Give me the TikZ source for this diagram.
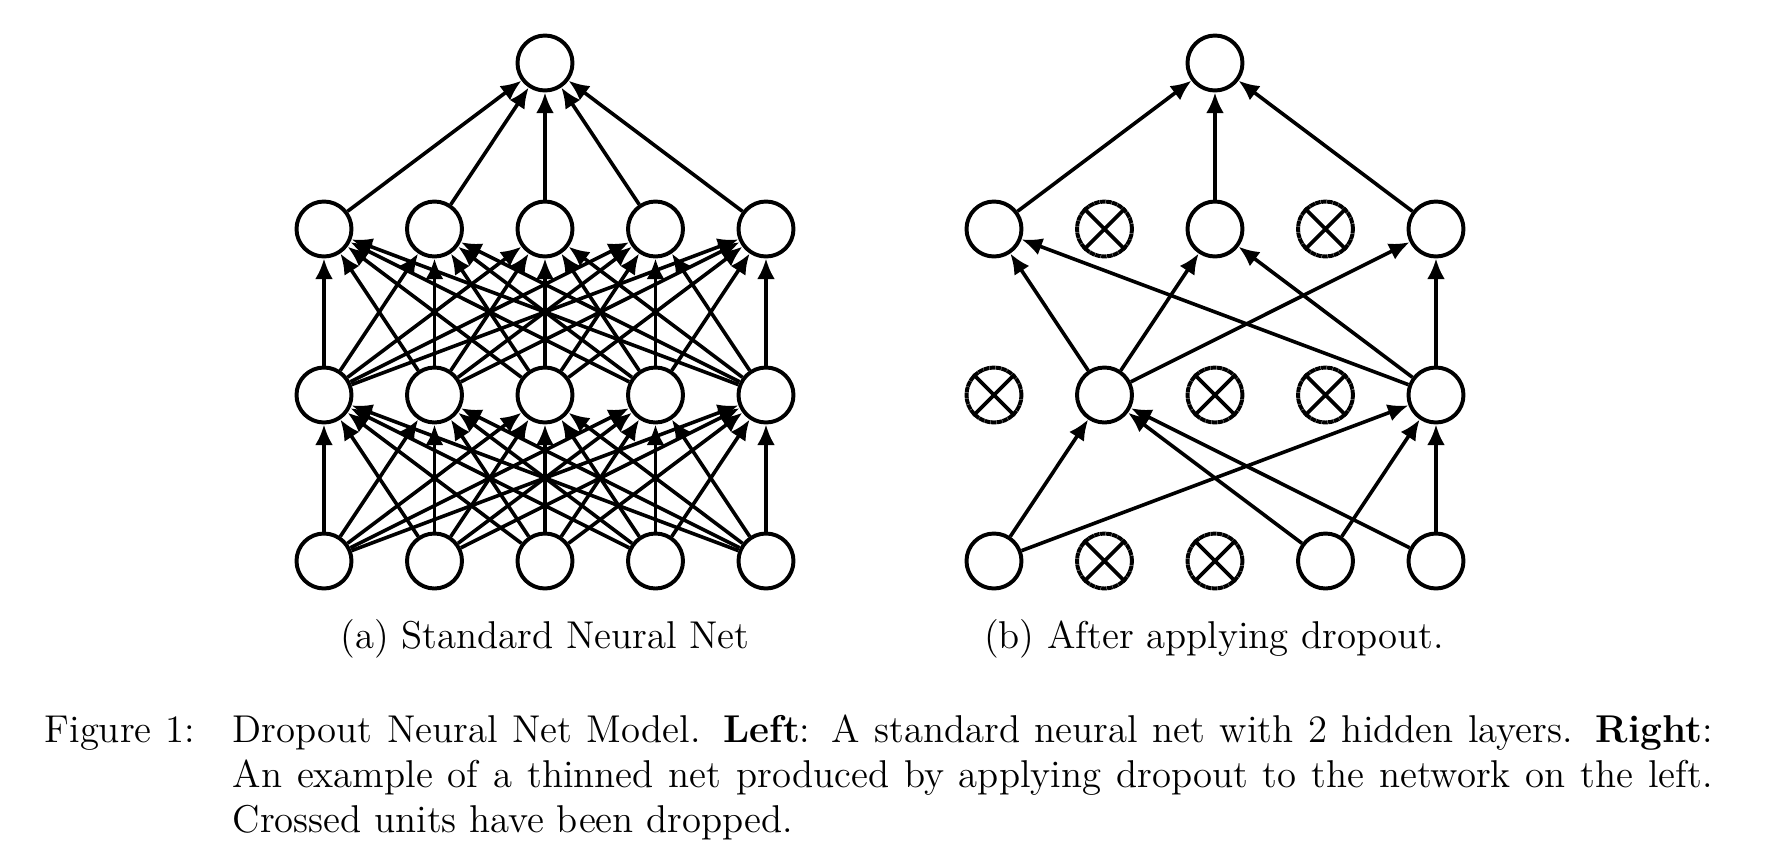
\documentclass[tikz,border=0pt]{standalone}
\usetikzlibrary{arrows.meta}
\newdimen\px \px=0.2915pt
\begin{document}
\begin{tikzpicture}[x=0.2915pt,y=-0.2915pt,
  unit/.style={circle,draw,line width=1.15pt,minimum size=55\px,inner sep=0pt},
  dropped/.style={unit,dash pattern=on 1.6pt off 0.15pt},
  xline/.style={line width=1.1pt},
  conn/.style={line width=1.05pt,-{Latex[length=6pt,width=5.2pt]}},
  lab/.style={inner sep=0pt,font=\fontsize{11.3}{13.9}\selectfont}]
\useasboundingbox (0,0) rectangle (1772,864);
% ---------- (a) standard net ----------
\foreach \i/\x in {1/324,2/434.5,3/545,4/655.5,5/766} {
  \node[unit] (Lb\i) at (\x,561) {};
  \node[unit] (Lm\i) at (\x,395) {};
  \node[unit] (Lt\i) at (\x,229) {};
}
\node[unit] (Lo) at (545,63) {};
\foreach \i in {1,...,5} {
  \foreach \j in {1,...,5} {
    \draw[conn] (Lb\i) -- (Lm\j);
    \draw[conn] (Lm\i) -- (Lt\j);
  }
  \draw[conn] (Lt\i) -- (Lo);
}
% ---------- (b) after dropout ----------
\foreach \i/\x in {1/994,4/1325.5,5/1436} \node[unit] (Rb\i) at (\x,561) {};
\foreach \i/\x in {2/1104.5,3/1215} \node[dropped] (Rb\i) at (\x,561) {};
\foreach \i/\x in {2/1104.5,5/1436} \node[unit] (Rm\i) at (\x,395) {};
\foreach \i/\x in {1/994,3/1215,4/1325.5} \node[dropped] (Rm\i) at (\x,395) {};
\foreach \i/\x in {1/994,3/1215,5/1436} \node[unit] (Rt\i) at (\x,229) {};
\foreach \i/\x in {2/1104.5,4/1325.5} \node[dropped] (Rt\i) at (\x,229) {};
\node[unit] (Ro) at (1215,63) {};
\foreach \n in {Rb2,Rb3,Rm1,Rm3,Rm4,Rt2,Rt4}
  \draw[xline] (\n.north east) -- (\n.south west) (\n.north west) -- (\n.south east);
\foreach \i/\j in {1/2,1/5,4/2,4/5,5/2,5/5} \draw[conn] (Rb\i) -- (Rm\j);
\foreach \i/\j in {2/1,2/3,2/5,5/1,5/3,5/5} \draw[conn] (Rm\i) -- (Rt\j);
\foreach \i in {1,3,5} \draw[conn] (Rt\i) -- (Ro);
% ---------- captions ----------
\node[lab,anchor=base] (capa) at (545,648) {(a) Standard Neural Net};
\node[lab,anchor=base] (capb) at (1214,648) {(b) After applying dropout.};
\node[lab,anchor=base west] (fig) at (44,742) {\makebox[150\px][s]{Figure 1:}};
\node[lab,anchor=base west] (cl1) at (232,742) {\makebox[1480\px][s]{Dropout Neural Net Model. \textbf{Left}: A standard neural net with 2 hidden layers. \textbf{Right}:}};
\node[lab,anchor=base west] (cl2) at (232,787) {\makebox[1480\px][s]{An example of a thinned net produced by applying dropout to the network on the left.}};
\node[lab,anchor=base west] (cl3) at (232,832) {Crossed units have been dropped.};
\end{tikzpicture}
\end{document}
